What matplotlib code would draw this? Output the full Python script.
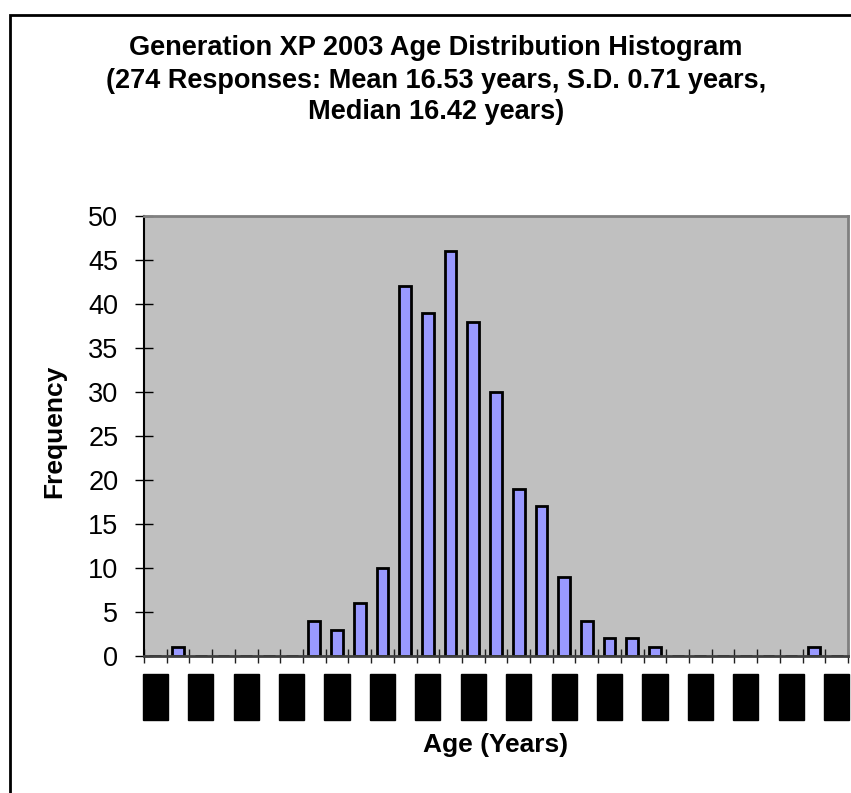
import matplotlib
matplotlib.use("Agg")
import matplotlib.pyplot as plt
from matplotlib.patches import Rectangle

plt.rcParams['font.family'] = ['Liberation Sans', 'DejaVu Sans']

# monthly age bins (years), 15y4m .. 17y10m
bin_labels = ["15.33", "15.42", "15.50", "15.58", "15.67", "15.75", "15.83", "15.92",
              "16.00", "16.08", "16.17", "16.25", "16.33", "16.42", "16.50", "16.58",
              "16.67", "16.75", "16.83", "16.92", "17.00", "17.08", "17.17", "17.25",
              "17.33", "17.42", "17.50", "17.58", "17.67", "17.75", "17.83"]
counts = [0, 1, 0, 0, 0, 0, 0, 4, 3, 6, 10, 42, 39, 46, 38, 30,
          19, 17, 9, 4, 2, 2, 1, 0, 0, 0, 0, 0, 0, 1, 0]

W, H = 851, 793
fig = plt.figure(figsize=(W / 100, H / 100), dpi=100)
fig.patch.set_facecolor('white')

# outer chart border (runs off the right/bottom edge)
fig.add_artist(Rectangle((10 / W, -0.1), 2.0, 1 - 15 / H + 0.1, transform=fig.transFigure,
                         fill=False, edgecolor='black', linewidth=2))

ax = fig.add_axes([144 / W, 1 - 656 / H, (848 - 144) / W, (656 - 216) / H])
ax.set_facecolor('#C0C0C0')

x = list(range(len(counts)))
ax.bar(x, counts, width=0.52, color='#9999FF', edgecolor='black', linewidth=2, zorder=2)

ax.set_xlim(-0.5, len(counts) - 0.5)
ax.set_ylim(0, 50)
ax.set_yticks(range(0, 51, 5))
ax.tick_params(axis='y', direction='inout', length=13, width=1, labelsize=19.5, pad=12)

# bin edges as major ticks, labels on every other bin centre
ax.set_xticks([i - 0.5 for i in range(len(counts) + 1)])
ax.set_xticklabels([])
ax.tick_params(axis='x', which='major', direction='inout', length=10, width=1, color='#202020')
centers = x[::2]
ax.set_xticks(centers, minor=True)
ax.set_xticklabels(bin_labels[::2], minor=True, rotation=90, fontsize=10, color='black')
ax.tick_params(axis='x', which='minor', length=0, pad=17)
for lbl in ax.get_xticklabels(minor=True):
    lbl.set_bbox(dict(boxstyle='square,pad=0.4', facecolor='black', edgecolor='black'))

ax.spines['left'].set_color('black')
ax.spines['left'].set_linewidth(1.5)
ax.spines['bottom'].set_color('#404040')
ax.spines['bottom'].set_linewidth(2)
for s in ('top', 'right'):
    ax.spines[s].set_color('#808080')
    ax.spines[s].set_linewidth(2)

fig.text(54 / W, 1 - 431 / H, 'Frequency', rotation=90, ha='center', va='center',
         fontsize=19, fontweight='bold')
fig.text(496 / W, 1 - 745 / H, 'Age (Years)', ha='center', va='center',
         fontsize=19, fontweight='bold')

title_lines = ["Generation XP 2003 Age Distribution Histogram",
               "(274 Responses: Mean 16.53 years, S.D. 0.71 years,",
               "Median 16.42 years)"]
for line, yc in zip(title_lines, [48, 81, 112]):
    fig.text(436 / W, 1 - yc / H, line, ha='center', va='center', fontsize=19.5,
             fontweight='bold')

fig.savefig('out.png', dpi=100)
